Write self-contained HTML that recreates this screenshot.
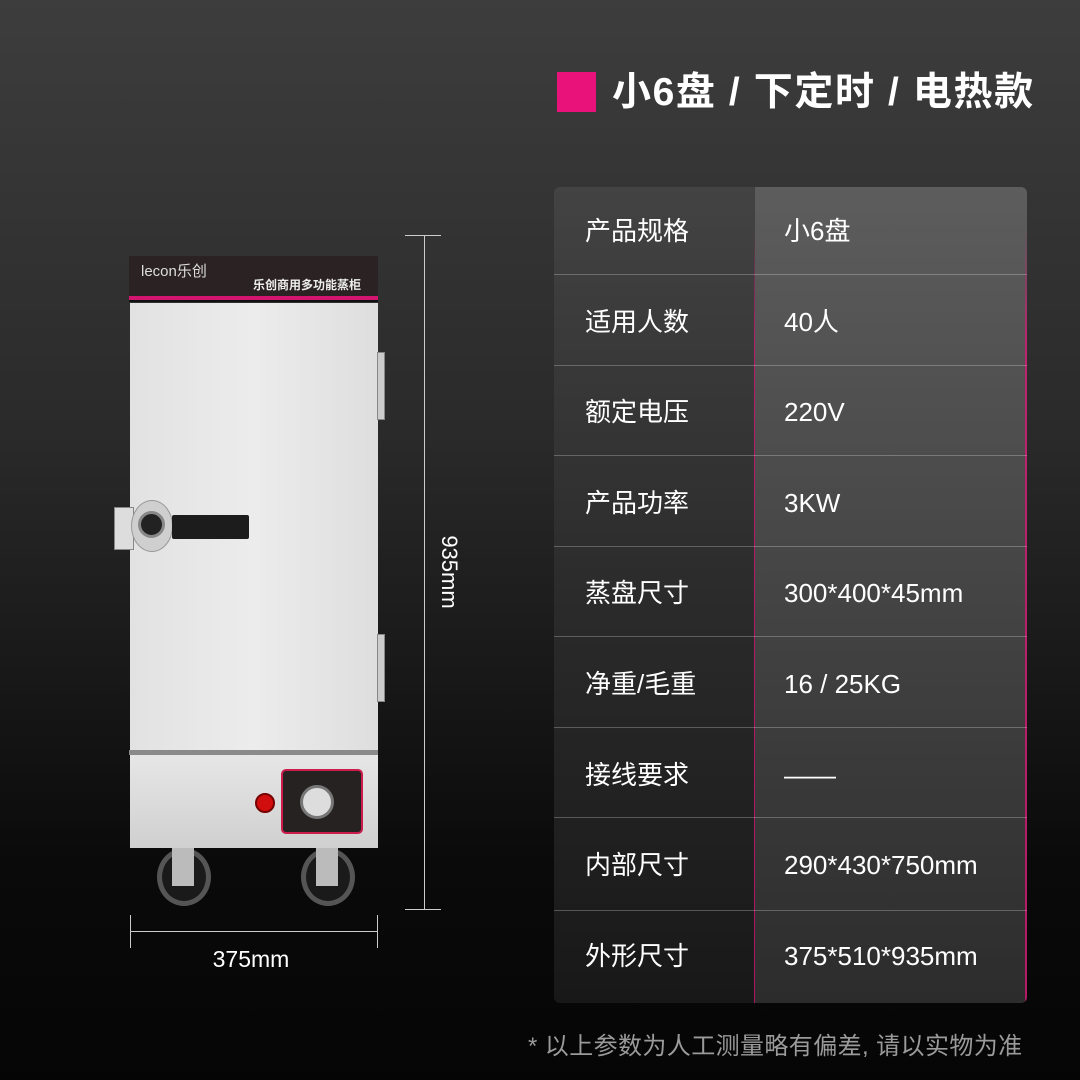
<!DOCTYPE html>
<html><head><meta charset="utf-8"><style>
*{margin:0;padding:0;box-sizing:border-box}
body{width:1080px;height:1080px;overflow:hidden;background:linear-gradient(#3d3d3d 0%,#2a2a2a 40%,#0a0a0a 80%,#050505 100%);font-family:"Liberation Sans","Noto Sans CJK SC",sans-serif;color:#fff;position:relative}
.a{position:absolute}
.tbl{left:554px;top:187px;width:473px;height:816px;border-radius:6px;overflow:hidden}
.lc{left:0;top:0;width:201px;height:816px;background:linear-gradient(#434343,#2b2b2b 50%,#181818)}
.rc{left:201px;top:0;width:272px;height:816px;background:linear-gradient(#5d5d5d,#444 50%,#2c2c2c)}
.row{position:absolute;left:0;width:473px;height:90.6px;font-size:26px;line-height:88px}
.row span{position:absolute}
.k{left:31px}.v{left:230px}
.sep{position:absolute;left:0;width:473px;height:1px;background:rgba(255,255,255,.25)}
</style></head><body>
<div class="a" style="left:557px;top:72px;width:39px;height:40px;background:#e8127a"></div>
<div class="a" style="left:612px;top:69px;font-size:39px;font-weight:bold;line-height:48px;white-space:nowrap;letter-spacing:1.6px">小6盘 / 下定时 / 电热款</div>

<div class="a tbl">
<div class="a lc"></div><div class="a rc"></div>
<div class="a" style="left:200px;top:40px;width:1px;height:776px;background:linear-gradient(rgba(230,20,120,0),rgba(224,20,122,.75) 15%)"></div>
<div class="a" style="left:471px;top:40px;width:2px;height:776px;background:linear-gradient(rgba(230,20,120,0),rgba(224,20,122,.75) 15%)"></div>
<div class="row" style="top:0"><span class="k">产品规格</span><span class="v">小6盘</span></div>
<div class="row" style="top:90.6px"><span class="k">适用人数</span><span class="v">40人</span></div>
<div class="row" style="top:181.2px"><span class="k">额定电压</span><span class="v">220V</span></div>
<div class="row" style="top:271.8px"><span class="k">产品功率</span><span class="v">3KW</span></div>
<div class="row" style="top:362.4px"><span class="k">蒸盘尺寸</span><span class="v">300*400*45mm</span></div>
<div class="row" style="top:453px"><span class="k">净重/毛重</span><span class="v">16 / 25KG</span></div>
<div class="row" style="top:543.6px"><span class="k">接线要求</span><span class="v">——</span></div>
<div class="row" style="top:634.2px"><span class="k">内部尺寸</span><span class="v">290*430*750mm</span></div>
<div class="row" style="top:724.8px"><span class="k">外形尺寸</span><span class="v">375*510*935mm</span></div>
<div class="sep" style="top:87px"></div><div class="sep" style="top:178px"></div><div class="sep" style="top:268px"></div><div class="sep" style="top:359px"></div><div class="sep" style="top:449px"></div><div class="sep" style="top:540px"></div><div class="sep" style="top:630px"></div><div class="sep" style="top:723px"></div>
</div>

<!-- cabinet -->
<div class="a" style="left:129px;top:256px;width:249px;height:40px;background:#2b2323"></div>
<div class="a" style="left:141px;top:260px;font-size:15px;color:#ddd">lecon乐创</div>
<div class="a" style="left:253px;top:276px;font-size:12px;font-weight:bold;color:#eee">乐创商用多功能蒸柜</div>
<div class="a" style="left:129px;top:296px;width:249px;height:4px;background:#d3156f"></div>
<div class="a" style="left:129px;top:300px;width:249px;height:2px;background:#111"></div>
<div class="a" style="left:130px;top:303px;width:248px;height:447px;background:linear-gradient(90deg,#e2e2e2,#ececec 50%,#dedede)"></div>
<div class="a" style="left:377px;top:352px;width:8px;height:68px;background:#ccc;border:1px solid #888"></div>
<div class="a" style="left:377px;top:634px;width:8px;height:68px;background:#ccc;border:1px solid #888"></div>
<div class="a" style="left:114px;top:507px;width:20px;height:43px;background:#ddd;border:1px solid #888"></div>
<div class="a" style="left:131px;top:500px;width:42px;height:52px;border-radius:50%;background:#cfcfcf;border:1px solid #999"></div>
<div class="a" style="left:138px;top:511px;width:27px;height:27px;border-radius:50%;background:#222;border:3px solid #888"></div>
<div class="a" style="left:172px;top:515px;width:77px;height:24px;background:#1c1c1c;border-radius:2px"></div>
<div class="a" style="left:129px;top:750px;width:249px;height:5px;background:#8a8a8a"></div>
<div class="a" style="left:130px;top:755px;width:248px;height:93px;background:linear-gradient(#e6e6e6,#d0d0d0)"></div>
<div class="a" style="left:255px;top:793px;width:20px;height:20px;border-radius:50%;background:#d20d0d;border:2px solid #700"></div>
<div class="a" style="left:281px;top:769px;width:82px;height:65px;border-radius:5px;background:#262222;border:2px solid #cc1c4c"></div>
<div class="a" style="left:300px;top:785px;width:34px;height:34px;border-radius:50%;background:#ddd;border:3px solid #777"></div>
<div class="a" style="left:157px;top:848px;width:54px;height:58px;border-radius:50%;background:#1a1a1a;border:5px solid #555"></div>
<div class="a" style="left:301px;top:848px;width:54px;height:58px;border-radius:50%;background:#1a1a1a;border:5px solid #555"></div>
<div class="a" style="left:172px;top:848px;width:22px;height:38px;background:#bbb"></div>
<div class="a" style="left:316px;top:848px;width:22px;height:38px;background:#bbb"></div>

<!-- dims -->
<div class="a" style="left:405px;top:235px;width:36px;height:1px;background:#ccc"></div>
<div class="a" style="left:424px;top:235px;width:1px;height:674px;background:#ccc"></div>
<div class="a" style="left:405px;top:909px;width:36px;height:1px;background:#ccc"></div>
<div class="a" style="left:404px;top:559px;width:90px;font-size:22px;transform:rotate(90deg);text-align:center">935mm</div>
<div class="a" style="left:130px;top:915px;width:1px;height:33px;background:#ccc"></div>
<div class="a" style="left:130px;top:931px;width:247px;height:1px;background:#ccc"></div>
<div class="a" style="left:377px;top:915px;width:1px;height:33px;background:#ccc"></div>
<div class="a" style="left:191px;top:946px;width:120px;text-align:center;font-size:23px">375mm</div>

<div class="a" style="left:528px;top:1026px;font-size:24px;color:#9a9a9a;white-space:nowrap;letter-spacing:0.4px">* 以上参数为人工测量略有偏差, 请以实物为准</div>
</body></html>
